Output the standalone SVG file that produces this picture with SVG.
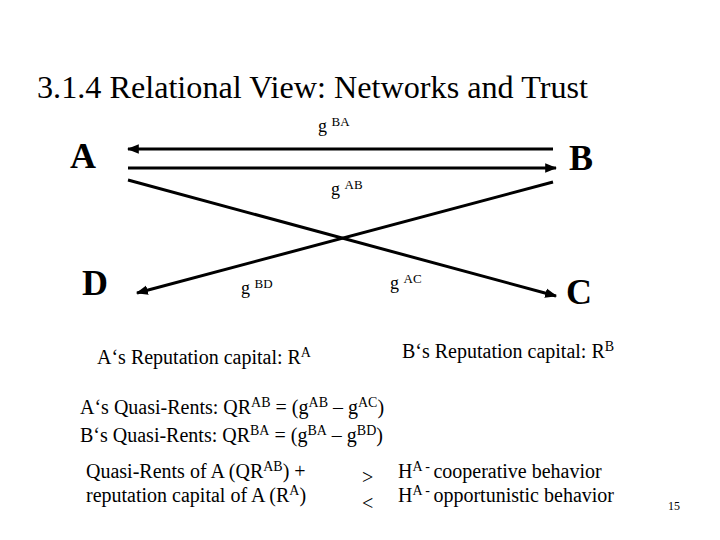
<svg xmlns="http://www.w3.org/2000/svg" width="720" height="540" viewBox="0 0 720 540">
<style>
text{font-family:"Liberation Serif","Times New Roman",serif;fill:#000}
.node{font-size:36px;font-weight:bold}
.lbl{font-size:18px}
.body{font-size:20px}
.conn{stroke:#000;stroke-width:3;fill:none}
</style>
<defs>
<marker id="ah" viewBox="0 0 10 10" refX="9" refY="5" markerWidth="4" markerHeight="4" orient="auto">
<path d="M0,1 L10,5 L0,9 z" fill="#000"/>
</marker>
</defs>
<rect width="720" height="540" fill="#fff"/>
<text x="37" y="98" font-size="31" textLength="551" lengthAdjust="spacingAndGlyphs">3.1.4 Relational View: Networks and Trust</text>
<g id="connectors">
<line class="conn" x1="553" y1="149" x2="128" y2="149" marker-end="url(#ah)"/>
<line class="conn" x1="128" y1="168" x2="556" y2="168" marker-end="url(#ah)"/>
<line class="conn" x1="128" y1="180" x2="556" y2="296" marker-end="url(#ah)"/>
<line class="conn" x1="553" y1="182" x2="137" y2="293" marker-end="url(#ah)"/>
<text class="lbl" x="318" y="132">g <tspan font-size="13" dy="-6">BA</tspan></text>
<text class="lbl" x="331" y="195">g <tspan font-size="13" dy="-6">AB</tspan></text>
<text class="lbl" x="241" y="294">g <tspan font-size="13" dy="-6">BD</tspan></text>
<text class="lbl" x="390" y="289">g <tspan font-size="13" dy="-6">AC</tspan></text>
</g>
<g id="node-A"><text class="node" x="70" y="168">A</text></g>
<g id="node-B"><text class="node" x="569" y="170">B</text></g>
<g id="node-D"><text class="node" x="82" y="295">D</text></g>
<g id="node-C"><text class="node" x="566" y="304">C</text></g>
<text class="body" x="97" y="364">A‘s Reputation capital: R<tspan font-size="14" dy="-7">A</tspan></text>
<text class="body" x="402" y="358">B‘s Reputation capital: R<tspan font-size="14" dy="-7">B</tspan></text>
<text class="body" x="80" y="414">A‘s Quasi-Rents: QR<tspan font-size="14" dy="-7">AB</tspan><tspan dy="7"> = (g</tspan><tspan font-size="14" dy="-7">AB</tspan><tspan dy="7"> – g</tspan><tspan font-size="14" dy="-7">AC</tspan><tspan dy="7">)</tspan></text>
<text class="body" x="80" y="442">B‘s Quasi-Rents: QR<tspan font-size="14" dy="-7">BA</tspan><tspan dy="7"> = (g</tspan><tspan font-size="14" dy="-7">BA</tspan><tspan dy="7"> – g</tspan><tspan font-size="14" dy="-7">BD</tspan><tspan dy="7">)</tspan></text>
<text class="body" x="86" y="478">Quasi-Rents of A (QR<tspan font-size="14" dy="-7">AB</tspan><tspan dy="7">) +</tspan></text>
<text class="body" x="86" y="502">reputation capital of A (R<tspan font-size="14" dy="-7">A</tspan><tspan dy="7">)</tspan></text>
<text class="body" x="362" y="484">&gt;</text>
<text class="body" x="362" y="510">&lt;</text>
<text class="body" x="398" y="478">H<tspan font-size="14" dy="-7">A - </tspan><tspan dy="7"> cooperative behavior</tspan></text>
<text class="body" x="398" y="502">H<tspan font-size="14" dy="-7">A - </tspan><tspan dy="7"> opportunistic behavior</tspan></text>
<text x="668" y="510" font-size="12">15</text>
</svg>
